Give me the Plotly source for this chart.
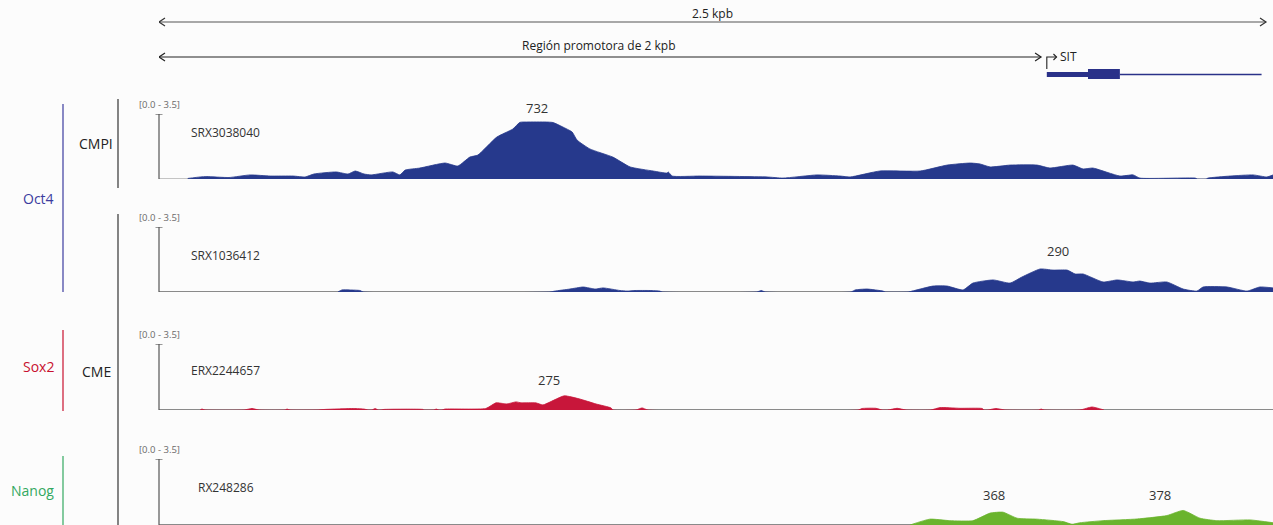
import plotly.graph_objects as go

# ---- data -----------------------------------------------------------------
# genomic coordinates in bp relative to the left edge of the window
region_len = 2500
promoter_len = 2000
tss = 2005
utr_end = 2098
cds_end = 2170
gene_end = 2490

track_ids = ["SRX3038040", "SRX1036412", "ERX2244657", "RX248286"]
range_label = "[0.0 - 3.5]"

# Oct4, CMPI
oct4_cmpi_pos = [65, 93, 108, 158, 206, 251, 303, 330, 350, 400, 427, 443, 463, 479, 528, 544,
                 556, 589, 646, 675, 702, 720, 763, 799, 815, 830, 875, 890, 912, 933, 944, 973,
                 1025, 1064, 1116, 1147, 1150, 1159, 1222, 1373, 1409, 1486, 1538, 1561, 1628,
                 1719, 1780, 1832, 1854, 1877, 1922, 1983, 2012, 2064, 2087, 2109, 2170, 2200,
                 2215, 2340, 2345, 2365, 2369, 2419, 2471, 2502, 2516]
oct4_cmpi_val = [0.03, 0.11, 0.13, 0.08, 0.22, 0.16, 0.16, 0.11, 0.27, 0.38, 0.27, 0.43, 0.27,
                 0.22, 0.38, 0.22, 0.48, 0.59, 0.86, 0.70, 1.18, 1.29, 2.26, 2.69, 3.05, 3.07,
                 3.07, 3.04, 2.80, 2.53, 2.10, 1.62, 1.18, 0.65, 0.43, 0.32, 0.38, 0.16, 0.16,
                 0.11, 0.05, 0.22, 0.16, 0.11, 0.43, 0.43, 0.75, 0.86, 0.81, 0.65, 0.75, 0.75,
                 0.59, 0.75, 0.54, 0.59, 0.16, 0.22, 0.05, 0.05, 0.0, 0.0, 0.05, 0.16, 0.22,
                 0.11, 0.22]

# Oct4, CME
oct4_cme_pos = [404, 413, 431, 454, 461, 883, 894, 928, 958, 985, 1003, 1041, 1057, 1075, 1109,
                1131, 1136, 1350, 1360, 1369, 1563, 1572, 1599, 1635, 1640, 1692, 1701, 1748,
                1780, 1816, 1838, 1884, 1922, 1949, 1990, 2019, 2051, 2069, 2087, 2132, 2164,
                2200, 2215, 2238, 2276, 2313, 2344, 2358, 2412, 2457, 2486, 2516]
oct4_cme_val = [0, 0.11, 0.11, 0.08, 0, 0, 0.05, 0.16, 0.27, 0.16, 0.22, 0.08, 0.05, 0.08, 0.08,
                0.05, 0, 0, 0.08, 0, 0, 0.11, 0.16, 0.05, 0, 0, 0.05, 0.32, 0.32, 0.11, 0.48,
                0.65, 0.48, 0.81, 1.24, 1.18, 1.18, 0.97, 0.97, 0.54, 0.65, 0.54, 0.59, 0.48,
                0.54, 0.16, 0.05, 0.27, 0.27, 0.05, 0.27, 0.22]

# Sox2, CME
sox2_pos = [93, 97, 104, 192, 210, 226, 285, 289, 296, 357, 375, 440, 463, 472, 481, 488, 495,
            501, 508, 596, 598, 621, 626, 632, 639, 646, 738, 761, 775, 786, 806, 818, 851, 867,
            915, 949, 987, 1021, 1025, 1077, 1091, 1104, 1579, 1588, 1619, 1633, 1646, 1667,
            1687, 1743, 1764, 1809, 1859, 1863, 1872, 1890, 1911, 1987, 1992, 1999, 2080, 2107,
            2134]
sox2_val = [0, 0.05, 0, 0, 0.08, 0, 0, 0.05, 0, 0, 0.03, 0.08, 0.05, 0, 0, 0.08, 0, 0, 0.03,
            0.03, 0, 0, 0.05, 0, 0, 0.05, 0.08, 0.38, 0.35, 0.32, 0.43, 0.38, 0.38, 0.27, 0.75,
            0.59, 0.32, 0.11, 0, 0, 0.11, 0, 0, 0.08, 0.09, 0, 0, 0.09, 0, 0, 0.13, 0.09, 0.08,
            0, 0, 0.08, 0, 0, 0.05, 0, 0, 0.16, 0]

# Nanog, CME
nanog_pos = [1696, 1741, 1786, 1838, 1877, 1906, 1938, 1983, 2042, 2062, 2080, 2132, 2209, 2276,
             2313, 2351, 2389, 2464, 2516]
nanog_val = [0, 0.31, 0.23, 0.23, 0.63, 0.68, 0.36, 0.31, 0.18, 0.04, 0.12, 0.23, 0.32, 0.50,
             0.77, 0.36, 0.23, 0.27, 0.12]

# peak scores shown above the main peaks: (track, bp, score)
peak_track = [0, 1, 2, 3, 3]
peak_bp = [854, 2030, 880, 1885, 2260]
peak_score = ["732", "290", "275", "368", "378"]

# ---- layout helpers ---------------------------------------------------------
W, H = 1273, 525
X0 = 159                      # pixel of bp 0
BP_PX = 0.4428                # pixels per bp
FONT = "'Open Sans', Lato, Arial, sans-serif"
BLUE = "#26398c"
RED = "#c8163a"
GREEN = "#6ab42d"


def fx(p):
    return p / W


def fy(p):
    return 1 - p / H


def text(s, x, y, size, color, xref="paper", xanchor="center"):
    return dict(text=s, xref=xref, yref="paper", x=x, y=y, showarrow=False,
                xanchor=xanchor, yanchor="middle",
                font=dict(size=size, color=color, family=FONT))


# top and baseline pixel of each track
track_top = [114, 227, 344, 459]
track_base = [179, 292, 410, 525]
track_name_y = [132, 255, 370, 487]
track_name_x = [189, 189, 189, 196]
track_color = [BLUE, BLUE, RED, GREEN]
track_pos = [oct4_cmpi_pos, oct4_cme_pos, sox2_pos, nanog_pos]
track_val = [oct4_cmpi_val, oct4_cme_val, sox2_val, nanog_val]
base_color = ["#c4c4c4", "#8a8a8a", "#8a8a8a", "#8a8a8a"]
peak_label_y = [108, 251, 380, 495]
YMAX = 3.5

fig = go.Figure()
shapes = []
annotations = []

x_end_bp = (W - X0) / BP_PX

for i in range(4):
    yname = "y" if i == 0 else f"y{i + 1}"
    fig.add_trace(go.Scatter(
        x=track_pos[i], y=track_val[i], xaxis="x", yaxis=yname,
        mode="lines", fill="tozeroy", fillcolor=track_color[i],
        line=dict(color=track_color[i], width=0.8, shape="spline", smoothing=0.5),
        hoverinfo="skip", showlegend=False))
    ax = "yaxis" if i == 0 else f"yaxis{i + 1}"
    fig.update_layout(**{ax: dict(domain=[fy(track_base[i]), fy(track_top[i])],
                                  range=[0, YMAX], visible=False, fixedrange=True)})
    # baseline
    shapes.append(dict(type="line", xref="paper", yref=yname, x0=fx(X0), x1=1, y0=0, y1=0,
                       line=dict(color=base_color[i], width=2), layer="below"))
    # data range axis
    shapes.append(dict(type="line", xref="paper", yref=yname, x0=fx(X0), x1=fx(X0), y0=0,
                       y1=YMAX, line=dict(color="#555555", width=1.2)))
    shapes.append(dict(type="line", xref="paper", yref=yname, x0=fx(X0 - 3.5), x1=fx(X0 + 3.5),
                       y0=YMAX, y1=YMAX, line=dict(color="#555555", width=1.2)))
    annotations.append(text(range_label, fx(X0), fy(track_top[i] - 10), 9.5, "#6a6a6a"))
    annotations.append(text(track_ids[i], fx(track_name_x[i]), fy(track_name_y[i]), 12,
                            "#333333", xanchor="left"))

# peak scores
for t, bp, s in zip(peak_track, peak_bp, peak_score):
    annotations.append(text(s, bp, fy(peak_label_y[t]), 13, "#333333", xref="x"))


# ---- scale arrows and gene model --------------------------------------------
def chevron(x_bp, y_px, direction, color):
    dx = 6 / BP_PX * direction
    return dict(type="path", xref="x", yref="paper",
                path=f"M {x_bp - dx},{fy(y_px - 4)} L {x_bp},{fy(y_px)} L {x_bp - dx},{fy(y_px + 4)}",
                line=dict(color=color, width=1.2))


shapes.append(dict(type="line", xref="x", yref="paper", x0=0, x1=region_len, y0=fy(22),
                   y1=fy(22), line=dict(color="#555555", width=1.2)))
shapes.append(chevron(0, 22, -1, "#333333"))
shapes.append(chevron(region_len, 22, 1, "#333333"))
annotations.append(text("2.5 kpb", region_len / 2, fy(14), 12, "#222222", xref="x"))

shapes.append(dict(type="line", xref="x", yref="paper", x0=0, x1=promoter_len - 8, y0=fy(57),
                   y1=fy(57), line=dict(color="#222222", width=1.2)))
shapes.append(chevron(0, 57, -1, "#222222"))
shapes.append(chevron(promoter_len - 8, 57, 1, "#222222"))
annotations.append(text("Región promotora de 2 kpb", promoter_len * 0.5 - 6, fy(45), 12,
                        "#222222", xref="x"))

# transcription start site arrow
shapes.append(dict(type="path", xref="x", yref="paper",
                   path=f"M {tss},{fy(69)} L {tss},{fy(57)} L {tss + 22},{fy(57)}",
                   line=dict(color="#222222", width=1.1)))
shapes.append(dict(type="path", xref="x", yref="paper",
                   path=f"M {tss + 15},{fy(54)} L {tss + 22},{fy(57)} L {tss + 15},{fy(60)}",
                   line=dict(color="#222222", width=1.1)))
annotations.append(text("SIT", tss + 25, fy(57), 12, "#222222", xref="x", xanchor="left"))

GENE = "#2a3189"
shapes.append(dict(type="rect", xref="x", yref="paper", x0=tss, x1=utr_end, y0=fy(77), y1=fy(72),
                   fillcolor=GENE, line=dict(width=0)))
shapes.append(dict(type="rect", xref="x", yref="paper", x0=utr_end, x1=cds_end, y0=fy(79),
                   y1=fy(69), fillcolor=GENE, line=dict(width=0)))
shapes.append(dict(type="line", xref="x", yref="paper", x0=cds_end, x1=gene_end, y0=fy(74.5),
                   y1=fy(74.5), line=dict(color=GENE, width=1.3)))

# ---- sample grouping on the left --------------------------------------------
shapes.append(dict(type="line", xref="paper", yref="paper", x0=fx(118), x1=fx(118), y0=fy(99),
                   y1=fy(188), line=dict(color="#333333", width=1.2)))
shapes.append(dict(type="line", xref="paper", yref="paper", x0=fx(118), x1=fx(118), y0=fy(214),
                   y1=fy(525), line=dict(color="#333333", width=1.2)))
annotations.append(text("CMPI", fx(96), fy(143), 14, "#222222"))
annotations.append(text("CME", fx(96), fy(371), 14, "#222222"))

factor_names = ["Oct4", "Sox2", "Nanog"]
factor_colors = ["#3b3b9e", "#c8102e", "#33a860"]
factor_span = [(104, 292), (330, 411), (456, 525)]
factor_label_y = [198, 366, 490]
for name, col, (a, b), ly in zip(factor_names, factor_colors, factor_span, factor_label_y):
    shapes.append(dict(type="line", xref="paper", yref="paper", x0=fx(63), x1=fx(63), y0=fy(a),
                       y1=fy(b), line=dict(color=col, width=1.2)))
    annotations.append(text(name, fx(56), fy(ly), 14, col, xanchor="right"))

fig.update_layout(
    width=W, height=H, margin=dict(l=0, r=0, t=0, b=0),
    paper_bgcolor="#fcfcfc", plot_bgcolor="#fcfcfc",
    xaxis=dict(domain=[fx(X0), 1], range=[0, x_end_bp], visible=False, fixedrange=True),
    shapes=shapes, annotations=annotations, showlegend=False,
)

fig.write_html("out.html")
